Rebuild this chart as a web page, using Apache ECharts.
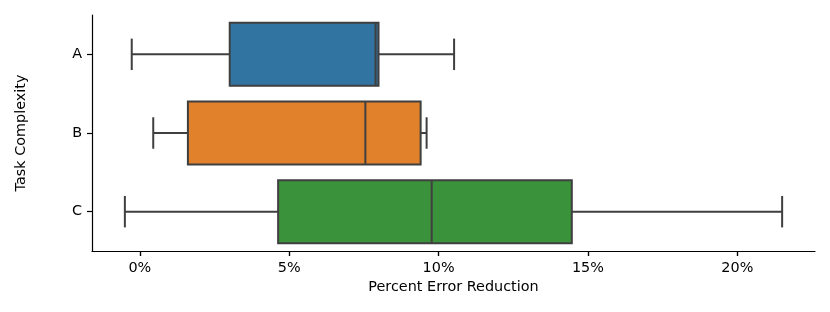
<!DOCTYPE html>
<html>
<head>
<meta charset="utf-8">
<script src="https://cdn.jsdelivr.net/npm/echarts@6/dist/echarts.min.js"></script>
<style>html,body{margin:0;padding:0;background:#fff}#c{width:830px;height:312px}</style>
</head>
<body>
<div id="c"></div>
<script>
const categories = ['A', 'B', 'C'];
const whiskerLow = [-0.27, 0.45, -0.50];
const q1 = [3.01, 1.61, 4.63];
const median = [7.89, 7.55, 9.77];
const q3 = [7.99, 9.40, 14.46];
const whiskerHigh = [10.52, 9.60, 21.50];
const boxColors = ['#3274a1', '#e1812c', '#3a923a'];
const xTicks = [0, 5, 10, 15, 20];

const data = categories.map((c, i) => [i, whiskerLow[i], q1[i], median[i], q3[i], whiskerHigh[i]]);

const lineColor = '#3f3f3f';
const font = 'DejaVu Sans';
const fs = 14.4;

const chart = echarts.init(document.getElementById('c'), null, {renderer: 'canvas'});
chart.setOption({
  animation: false,
  grid: {left: 92, right: 15, top: 15, bottom: 61, containLabel: false},
  xAxis: [{
    type: 'value', min: -1.6, max: 22.6, splitNumber: 5,
    name: 'Percent Error Reduction', nameLocation: 'middle', nameGap: 28,
    nameTextStyle: {fontFamily: font, fontSize: fs, color: '#000'},
    splitLine: {show: false},
    axisLine: {show: true, onZero: false, lineStyle: {color: '#000', width: 1.2}},
    axisTick: {show: true, length: 5, lineStyle: {color: '#000', width: 1.2}},
    axisLabel: {showMinLabel: false, showMaxLabel: false, margin: 10, fontFamily: font, fontSize: fs, color: '#000',
      formatter: v => (xTicks.indexOf(v) >= 0 ? v + '%' : '')}
  }, {
    type: 'value', min: -1.6, max: 22.6, position: 'bottom',
    splitLine: {show: false},
    axisLine: {show: false, onZero: false},
    axisTick: {show: true, length: 5, customValues: xTicks, lineStyle: {color: '#000', width: 1.2}},
    axisLabel: {color: 'rgba(0,0,0,0)'}
  }],
  yAxis: {
    type: 'category', data: categories, inverse: true,
    name: 'Task Complexity', nameLocation: 'middle', nameGap: 64, nameRotate: 90,
    nameTextStyle: {fontFamily: font, fontSize: fs, color: '#000'},
    axisLine: {show: true, onZero: false, lineStyle: {color: '#000', width: 1.2}},
    axisTick: {show: true, length: 5, alignWithLabel: true, lineStyle: {color: '#000', width: 1.2}},
    axisLabel: {margin: 10, fontFamily: font, fontSize: fs, color: '#000'},
    splitLine: {show: false}
  },
  series: [{
    type: 'custom',
    xAxisIndex: 0,
    data: data,
    encode: {x: [1, 2, 3, 4, 5], y: 0},
    renderItem: function (params, api) {
      const idx = api.value(0);
      const lo = api.coord([api.value(1), idx]);
      const a = api.coord([api.value(2), idx]);
      const m = api.coord([api.value(3), idx]);
      const b = api.coord([api.value(4), idx]);
      const hi = api.coord([api.value(5), idx]);
      const band = api.size([0, 1])[1];
      const h = band * 0.8;
      const cy = a[1];
      const capH = h * 0.5;
      const ls = {stroke: lineColor, lineWidth: 2};
      return {
        type: 'group',
        children: [
          {type: 'line', shape: {x1: lo[0], y1: cy, x2: a[0], y2: cy}, style: ls},
          {type: 'line', shape: {x1: b[0], y1: cy, x2: hi[0], y2: cy}, style: ls},
          {type: 'line', shape: {x1: lo[0], y1: cy - capH / 2, x2: lo[0], y2: cy + capH / 2}, style: ls},
          {type: 'line', shape: {x1: hi[0], y1: cy - capH / 2, x2: hi[0], y2: cy + capH / 2}, style: ls},
          {type: 'rect', shape: {x: a[0], y: cy - h / 2, width: b[0] - a[0], height: h},
           style: {fill: boxColors[idx], stroke: lineColor, lineWidth: 2}},
          {type: 'line', shape: {x1: m[0], y1: cy - h / 2, x2: m[0], y2: cy + h / 2}, style: ls}
        ]
      };
    }
  }]
});
</script>
</body>
</html>
